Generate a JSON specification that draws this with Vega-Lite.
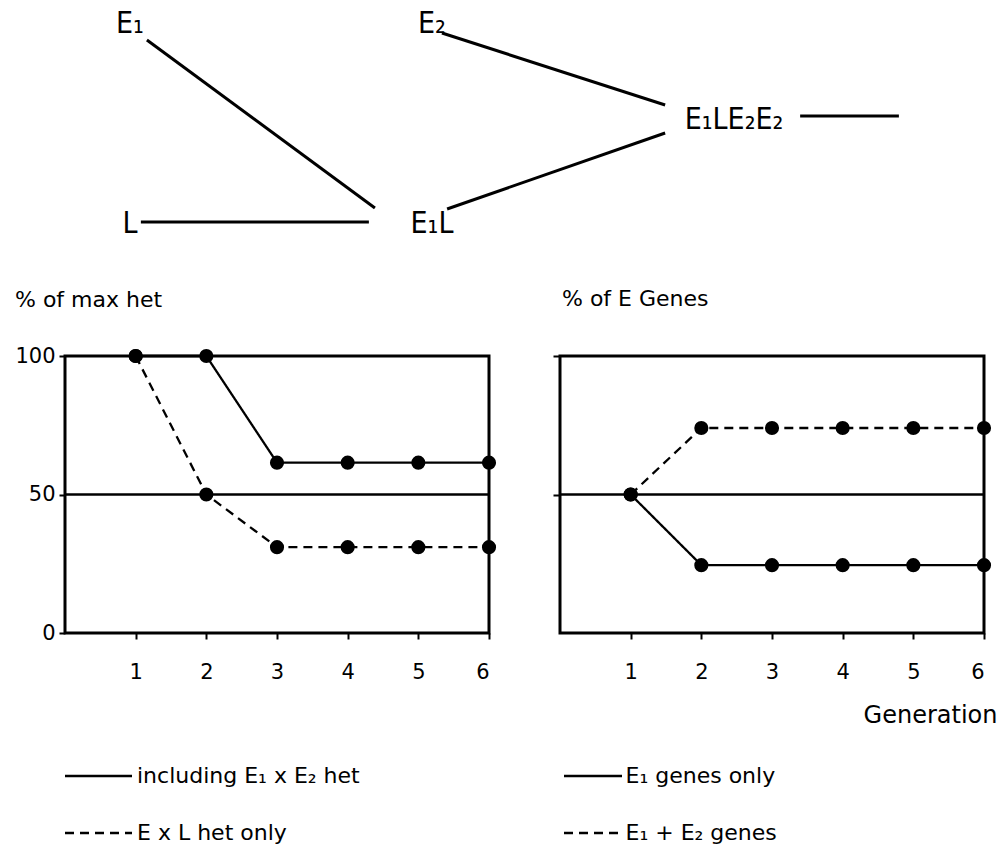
{
  "$schema": "https://vega.github.io/schema/vega-lite/v6.json",
  "background": "white",
  "autosize": {"type": "pad"},
  "padding": {"left": 13, "top": 0, "right": 0, "bottom": 0},
  "config": {
    "font": "DejaVu Sans",
    "view": {"stroke": "black", "strokeWidth": 3},
    "axis": {"grid": false, "domain": false, "labelColor": "black", "tickColor": "black", "labelFont": "DejaVu Sans", "tickWidth": 2},
    "title": {"color": "black", "font": "DejaVu Sans", "fontWeight": "normal", "fontSize": 22}
  },
  "bounds": "flush",
  "spacing": 56,
  "vconcat": [
    {
      "width": 936,
      "height": 300,
      "view": {"stroke": null},
      "layer": [
        {
          "data": {"values": [
            {"from": "E₁", "to": "E₁L", "gen": 0.056, "row": 0.16, "gen2": 0.811, "row2": 1.84},
            {"from": "L", "to": "E₁L", "gen": 0.036, "row": 1.98, "gen2": 0.791, "row2": 1.98},
            {"from": "E₂", "to": "E₁LE₂E₂", "gen": 1.033, "row": 0.09, "gen2": 1.772, "row2": 0.81},
            {"from": "E₁L", "to": "E₁LE₂E₂", "gen": 1.05, "row": 1.85, "gen2": 1.772, "row2": 1.09},
            {"from": "E₁LE₂E₂", "to": "next", "gen": 2.219, "row": 0.92, "gen2": 2.546, "row2": 0.92}
          ]},
          "mark": {"type": "rule", "color": "black", "strokeWidth": 3},
          "encoding": {
            "x": {"field": "gen", "type": "quantitative", "axis": null, "scale": {"domain": [-0.21523, 2.88411], "nice": false, "zero": false}},
            "y": {"field": "row", "type": "quantitative", "axis": null, "scale": {"domain": [-0.24, 2.76], "nice": false, "zero": false, "reverse": true}},
            "x2": {"field": "gen2"},
            "y2": {"field": "row2"}
          }
        },
        {
          "data": {"values": [
            {"label": "E₁", "gen": 0, "row": 0},
            {"label": "E₂", "gen": 1, "row": 0},
            {"label": "L", "gen": 0, "row": 2},
            {"label": "E₁L", "gen": 1, "row": 2},
            {"label": "E₁LE₂E₂", "gen": 2, "row": 0.96}
          ]},
          "mark": {"type": "text", "font": "DejaVu Sans Condensed, Liberation Sans Narrow, DejaVu Sans", "fontSize": 30, "baseline": "middle", "align": "center", "color": "black"},
          "encoding": {
            "x": {"field": "gen", "type": "quantitative", "axis": null, "scale": {"domain": [-0.21523, 2.88411], "nice": false, "zero": false}},
            "y": {"field": "row", "type": "quantitative", "axis": null, "scale": {"domain": [-0.24, 2.76], "nice": false, "zero": false, "reverse": true}},
            "text": {"field": "label"}
          }
        }
      ]
    },
    {
      "bounds": "flush",
      "spacing": 71,
      "resolve": {"scale": {"x": "independent", "y": "independent", "strokeDash": "independent"}, "legend": {"strokeDash": "independent"}},
      "hconcat": [
        {
          "width": 424,
          "height": 277,
          "title": {"text": "% of max het", "anchor": "start", "frame": "group", "dx": -50, "baseline": "alphabetic", "offset": 16},
          "data": {"values": [
            {"generation": 1, "pct": 100, "series": "including E₁ x E₂ het"},
            {"generation": 2, "pct": 100, "series": "including E₁ x E₂ het"},
            {"generation": 3, "pct": 61.5, "series": "including E₁ x E₂ het"},
            {"generation": 4, "pct": 61.5, "series": "including E₁ x E₂ het"},
            {"generation": 5, "pct": 61.5, "series": "including E₁ x E₂ het"},
            {"generation": 6, "pct": 61.5, "series": "including E₁ x E₂ het"},
            {"generation": 1, "pct": 100, "series": "E x L het only"},
            {"generation": 2, "pct": 50, "series": "E x L het only"},
            {"generation": 3, "pct": 31, "series": "E x L het only"},
            {"generation": 4, "pct": 31, "series": "E x L het only"},
            {"generation": 5, "pct": 31, "series": "E x L het only"},
            {"generation": 6, "pct": 31, "series": "E x L het only"}
          ]},
          "encoding": {
            "x": {"field": "generation", "type": "quantitative", "scale": {"domain": [0, 6], "nice": false, "zero": false},
                  "axis": {"values": [1, 2, 3, 4, 5, 6], "title": null, "tickSize": 6, "labelPadding": 22, "labelFontSize": 21}},
            "y": {"field": "pct", "type": "quantitative", "scale": {"domain": [0, 100], "nice": false, "zero": false},
                  "axis": {"values": [0, 50, 100], "title": null, "tickSize": 6, "labelPadding": 4, "labelFontSize": 21}}
          },
          "layer": [
            {
              "data": {"values": [{"level": 50}]},
              "mark": {"type": "rule", "color": "black", "strokeWidth": 2.5},
              "encoding": {"x": null, "y": {"field": "level", "type": "quantitative"}}
            },
            {
              "mark": {"type": "line", "color": "black", "strokeWidth": 2.3},
              "encoding": {
                "strokeDash": {"field": "series", "type": "nominal",
                  "scale": {"domain": ["including E₁ x E₂ het", "E x L het only"], "range": [[1, 0], [9, 6]]},
                  "legend": {"orient": "none", "legendX": 0, "legendY": 408.5, "title": null, "padding": 0,
                    "symbolType": "M-3.35,0H3.35", "symbolSize": 400, "symbolStrokeWidth": 2.5, "symbolStrokeColor": "black", "symbolFillColor": "transparent",
                    "symbolOffset": 22, "labelOffset": 27, "labelFontSize": 22, "labelFont": "DejaVu Sans", "labelColor": "black", "labelLimit": 500, "rowPadding": 34}}
              }
            },
            {
              "mark": {"type": "point", "shape": "circle", "filled": true, "color": "black", "opacity": 1, "size": 200}
            }
          ]
        },
        {
          "width": 424,
          "height": 277,
          "title": {"text": "% of E Genes", "anchor": "start", "frame": "group", "dx": 2, "baseline": "alphabetic", "offset": 27},
          "data": {"values": [
            {"generation": 1, "pct": 50, "series": "E₁ genes only"},
            {"generation": 2, "pct": 24.5, "series": "E₁ genes only"},
            {"generation": 3, "pct": 24.5, "series": "E₁ genes only"},
            {"generation": 4, "pct": 24.5, "series": "E₁ genes only"},
            {"generation": 5, "pct": 24.5, "series": "E₁ genes only"},
            {"generation": 6, "pct": 24.5, "series": "E₁ genes only"},
            {"generation": 1, "pct": 50, "series": "E₁ + E₂ genes"},
            {"generation": 2, "pct": 74, "series": "E₁ + E₂ genes"},
            {"generation": 3, "pct": 74, "series": "E₁ + E₂ genes"},
            {"generation": 4, "pct": 74, "series": "E₁ + E₂ genes"},
            {"generation": 5, "pct": 74, "series": "E₁ + E₂ genes"},
            {"generation": 6, "pct": 74, "series": "E₁ + E₂ genes"}
          ]},
          "encoding": {
            "x": {"field": "generation", "type": "quantitative", "scale": {"domain": [0, 6], "nice": false, "zero": false},
                  "axis": {"values": [1, 2, 3, 4, 5, 6], "title": "Generation", "tickSize": 6, "labelPadding": 22, "labelFontSize": 21,
                           "titleFontSize": 24, "titleFontWeight": "normal", "titleFont": "DejaVu Sans", "titleColor": "black",
                           "titleX": 437, "titleY": 89, "titleAlign": "right", "titleBaseline": "alphabetic"}},
            "y": {"field": "pct", "type": "quantitative", "scale": {"domain": [0, 100], "nice": false, "zero": false},
                  "axis": {"values": [50, 100], "title": null, "tickSize": 7, "labels": false}}
          },
          "layer": [
            {
              "data": {"values": [{"level": 50}]},
              "mark": {"type": "rule", "color": "black", "strokeWidth": 2.5},
              "encoding": {"x": null, "y": {"field": "level", "type": "quantitative"}}
            },
            {
              "mark": {"type": "line", "color": "black", "strokeWidth": 2.3},
              "encoding": {
                "strokeDash": {"field": "series", "type": "nominal",
                  "scale": {"domain": ["E₁ genes only", "E₁ + E₂ genes"], "range": [[1, 0], [9, 6]]},
                  "legend": {"orient": "none", "legendX": 4, "legendY": 408.5, "title": null, "padding": 0,
                    "symbolType": "M-2.9,0H2.9", "symbolSize": 400, "symbolStrokeWidth": 2.5, "symbolStrokeColor": "black", "symbolFillColor": "transparent",
                    "symbolOffset": 17.5, "labelOffset": 21, "labelFontSize": 22, "labelFont": "DejaVu Sans", "labelColor": "black", "labelLimit": 500, "rowPadding": 34}}
              }
            },
            {
              "mark": {"type": "point", "shape": "circle", "filled": true, "color": "black", "opacity": 1, "size": 200}
            }
          ]
        }
      ]
    }
  ]
}
